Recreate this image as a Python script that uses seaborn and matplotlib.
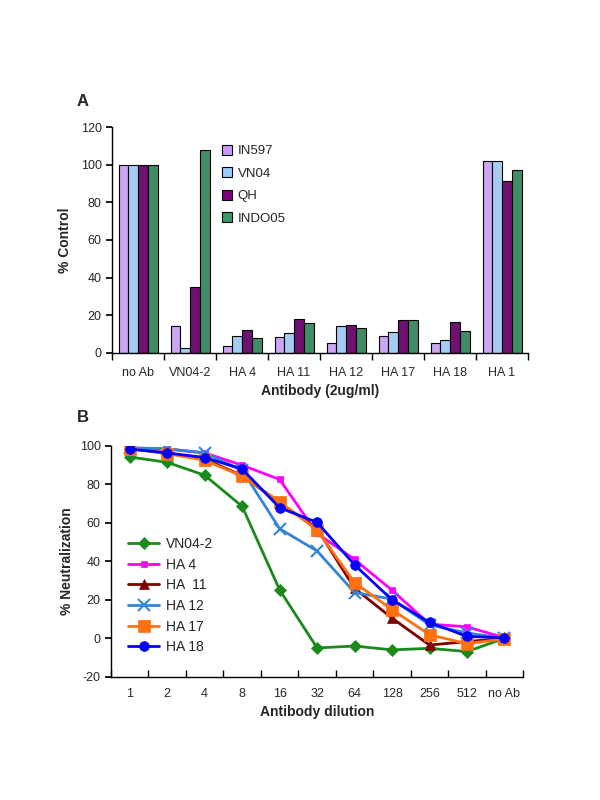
import matplotlib
matplotlib.use("Agg")
import matplotlib.pyplot as plt
import seaborn as sns
import pandas as pd
from matplotlib.ticker import FixedLocator, NullFormatter
from matplotlib.lines import Line2D

# ---- Panel A data ----
antibodies = ["no Ab", "VN04-2", "HA 4", "HA 11", "HA 12", "HA 17", "HA 18", "HA 1"]
strains = ["IN597", "VN04", "QH", "INDO05"]
in597 = [100, 14, 3.4, 8.3, 5, 9, 5, 102]
vn04 = [100, 2.5, 9, 10.5, 14, 11.2, 6.9, 102]
qh = [100, 35, 12, 18, 14.6, 17.4, 16.2, 91.5]
indo05 = [100, 108, 7.8, 15.6, 13, 17.4, 11.4, 97.3]
strain_colors = ["#cc99ff", "#99ccff", "#800080", "#339966"]

# ---- Panel B data ----
dilutions = ["1", "2", "4", "8", "16", "32", "64", "128", "256", "512", "no Ab"]
series_names = ["VN04-2", "HA 4", "HA  11", "HA 12", "HA 17", "HA 18"]
vn04_2 = [94.3, 91.5, 84.8, 68.6, 25.2, -5, -4, -6, -5.2, -6.9, 0]
ha4 = [99, 98.4, 96.4, 90, 82.6, 54.6, 41, 25, 7.4, 6, 0.3]
ha11 = [98.6, 96.4, 93.3, 84.5, 70.6, 57, 26, 10.5, -3.5, -1.7, 0]
ha12 = [99, 98.6, 96.4, 87.4, 57, 45.4, 23.8, 20.4, 7, 2.8, 0]
ha17 = [98.6, 96, 92.6, 84.3, 71, 56.3, 29, 14.9, 1.9, -2.8, -0.3]
ha18 = [98.4, 96.4, 94, 88, 67.9, 60.3, 38.2, 20, 8.3, 1, 0.3]
series_vals = [vn04_2, ha4, ha11, ha12, ha17, ha18]
line_colors = ["#1a8a1a", "#ff00ff", "#800000", "#3385d6", "#ff7010", "#0000ff"]
line_markers = ["D", "s", "^", "x", "s", "o"]
marker_sizes = [6, 5, 7, 8, 8, 7]

sns.set_theme(style="white")
plt.rcParams["font.family"] = ["Liberation Sans", "DejaVu Sans"]
plt.rcParams["axes.unicode_minus"] = False

fig = plt.figure(figsize=(6, 8), dpi=100)
axA = fig.add_axes([0.187, 0.559, 0.693, 0.282])
axB = fig.add_axes([0.185, 0.154, 0.687, 0.2885])

# ---- Panel A ----
dfA = pd.DataFrame({
    "Antibody": antibodies * 4,
    "Strain": sum([[s] * len(antibodies) for s in strains], []),
    "Value": in597 + vn04 + qh + indo05,
})
sns.barplot(data=dfA, x="Antibody", y="Value", hue="Strain", order=antibodies,
            hue_order=strains, palette=strain_colors, width=0.75, gap=0,
            edgecolor="black", linewidth=0.8, ax=axA, legend=False)
axA.set_ylim(0, 120)
axA.set_xlim(-0.5, len(antibodies) - 0.5)
axA.set_yticks(range(0, 121, 20))
axA.set_ylabel("% Control", fontsize=10, fontweight="bold", labelpad=6)
axA.set_xlabel("Antibody (2ug/ml)", fontsize=10, fontweight="bold", labelpad=4)
for s in ["top", "right"]:
    axA.spines[s].set_visible(False)
for s in ["left", "bottom"]:
    axA.spines[s].set_color("black")
    axA.spines[s].set_linewidth(1.0)
axA.tick_params(axis="x", which="major", length=0, labelsize=9, pad=10)
axA.xaxis.set_minor_locator(FixedLocator([i - 0.5 for i in range(len(antibodies) + 1)]))
axA.xaxis.set_minor_formatter(NullFormatter())
axA.tick_params(axis="x", which="minor", length=5, direction="out", bottom=True, color="black")
axA.tick_params(axis="y", length=4, direction="out", left=True, labelsize=9, color="black")
handlesA = [plt.Rectangle((0, 0), 1, 1, facecolor=c, edgecolor="black", linewidth=0.8)
            for c in strain_colors]
axA.legend(handlesA, strains, loc="upper left", bbox_to_anchor=(0.235, 0.975), frameon=False,
           fontsize=9.5, handlelength=0.8, handleheight=0.8, handletextpad=0.4,
           labelspacing=0.75)
fig.text(0.128, 0.868, "A", fontsize=12, fontweight="bold")

# ---- Panel B ----
for name, vals, col, mk, ms in zip(series_names, series_vals, line_colors, line_markers, marker_sizes):
    dfB = pd.DataFrame({"Dilution": dilutions, "Value": vals})
    sns.lineplot(data=dfB, x="Dilution", y="Value", color=col, marker=mk,
                 markersize=ms, linewidth=2, markeredgecolor=col,
                 markeredgewidth=1.5 if mk == "x" else 0.5, ax=axB, sort=False)
axB.set_ylim(-20, 100)
axB.set_xlim(-0.5, len(dilutions) - 0.5)
axB.set_yticks(range(-20, 101, 20))
axB.set_ylabel("% Neutralization", fontsize=10, fontweight="bold", labelpad=4)
axB.set_xlabel("Antibody dilution", fontsize=10, fontweight="bold", labelpad=4)
for s in ["top", "right"]:
    axB.spines[s].set_visible(False)
for s in ["left", "bottom"]:
    axB.spines[s].set_color("black")
    axB.spines[s].set_linewidth(1.0)
axB.tick_params(axis="x", which="major", length=0, labelsize=9, pad=8)
axB.xaxis.set_minor_locator(FixedLocator([i - 0.5 for i in range(len(dilutions) + 1)]))
axB.xaxis.set_minor_formatter(NullFormatter())
axB.tick_params(axis="x", which="minor", length=5, direction="in", bottom=True, color="black")
axB.tick_params(axis="y", length=4, direction="out", left=True, labelsize=9, color="black")
handlesB = [Line2D([0], [0], color=c, marker=m, markersize=ms, linewidth=2,
                   markeredgecolor=c, markeredgewidth=1.5 if m == "x" else 0.5)
            for c, m, ms in zip(line_colors, line_markers, marker_sizes)]
axB.legend(handlesB, series_names, loc="upper left", bbox_to_anchor=(0.012, 0.66),
           frameon=False, fontsize=10, handlelength=2.2, handletextpad=0.5,
           labelspacing=0.48)
fig.text(0.128, 0.472, "B", fontsize=12, fontweight="bold")

fig.savefig("out.png", dpi=100, facecolor="white")
